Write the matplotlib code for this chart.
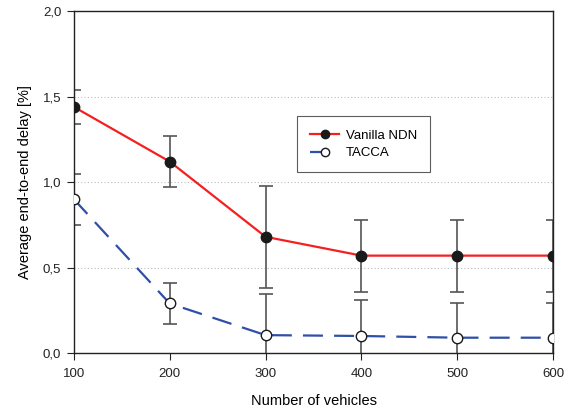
import numpy as np
import matplotlib
matplotlib.use('Agg')
import matplotlib.pyplot as plt
from matplotlib.ticker import FuncFormatter

plt.rcParams['font.family'] = ['Liberation Sans', 'DejaVu Sans']

# Data
vehicles = [100, 200, 300, 400, 500, 600]
vanilla = [1.44, 1.12, 0.68, 0.57, 0.57, 0.57]
vanilla_err = [0.10, 0.15, 0.30, 0.21, 0.21, 0.21]
tacca = [0.90, 0.29, 0.105, 0.10, 0.09, 0.09]
tacca_err = [0.15, 0.12, 0.24, 0.21, 0.20, 0.20]

fig = plt.figure(figsize=(5.68, 4.12), dpi=100)
ax = fig.add_axes([0.130, 0.143, 0.844, 0.830])

# error bars first (gray, behind the markers)
ax.errorbar(vehicles, vanilla, yerr=vanilla_err, fmt='none', ecolor='#555555',
            elinewidth=1.2, capsize=5, capthick=1.2, zorder=2)
ax.errorbar(vehicles, tacca, yerr=tacca_err, fmt='none', ecolor='#555555',
            elinewidth=1.2, capsize=5, capthick=1.2, zorder=2)

ax.plot(vehicles, vanilla, color='#f42020', lw=1.6, marker='o', ms=7.5,
        mfc='#1a1a1a', mec='#1a1a1a', label='Vanilla NDN', zorder=3)
ax.plot(vehicles, tacca, color='#2f4fa8', lw=1.6, ls=(0, (9, 5)), marker='o', ms=7.5,
        mfc='white', mec='#1a1a1a', mew=1.0, label='TACCA', zorder=3)

ax.set_xlim(100, 600)
ax.set_ylim(0, 2.0)
ax.set_xticks(vehicles)
ax.set_yticks([0, 0.5, 1.0, 1.5, 2.0])
ax.yaxis.set_major_formatter(FuncFormatter(lambda v, p: f'{v:.1f}'.replace('.', ',')))
ax.tick_params(direction='out', length=5, labelsize=9.5, colors='#222222', pad=4)
ax.tick_params(axis='x', pad=6)

for yv in [0.5, 1.0, 1.5]:
    ax.axhline(yv, color='#bbbbbb', lw=0.8, ls=(0, (1, 2)), zorder=1)

for s in ax.spines.values():
    s.set_linewidth(1.0)
    s.set_color('#222222')

ax.set_xlabel('Number of vehicles', fontsize=10.5, labelpad=10)
ax.set_ylabel('Average end-to-end delay [%]', fontsize=10.5, labelpad=8)

leg = ax.legend(loc='upper left', bbox_to_anchor=(0.452, 0.712), fontsize=9.5,
                frameon=True, fancybox=False, edgecolor='#333333',
                handlelength=2.2, handletextpad=0.5, markerscale=0.8,
                borderpad=1.0, labelspacing=0.4)
leg.get_frame().set_linewidth(0.8)

fig.savefig('out.png', dpi=100)
